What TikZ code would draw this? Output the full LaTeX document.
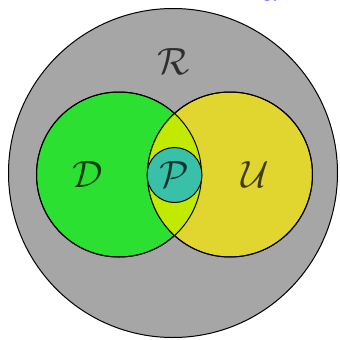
\documentclass[tikz,border=0pt]{standalone}
\usepackage{amsmath}
\definecolor{rgray}{HTML}{A6A6A6}
\definecolor{dgreen}{HTML}{2CE032}
\definecolor{uyellow}{HTML}{E0D62F}
\definecolor{lens}{HTML}{C2EA00}
\definecolor{pteal}{HTML}{38C0A8}
\begin{document}
\begin{tikzpicture}[x=1pt,y=-1pt,
  setc/.style={circle,inner sep=0pt,draw=black,line width=1pt},
  lbl/.style={text=black,text opacity=0.72,scale=3.8,inner sep=0pt}]
\useasboundingbox (0,0) rectangle (340,340);
\begin{scope}
\clip (0,0) rectangle (340,340);
\node[anchor=base,scale=2.2,inner sep=0pt] (frag) at (276,-4) {\textcolor{blue}{gy},};
\node[setc,fill=rgray,minimum size=329pt] (R) at (173,173) {};
\end{scope}
\node[setc,fill=dgreen,minimum size=165pt] (D) at (119,174.5) {};
\node[setc,fill=uyellow,minimum size=165pt] (U) at (230,174.5) {};
\begin{scope}
\clip (119,174.5) circle[radius=82.5pt];
\fill[lens] (230,174.5) circle[radius=82.5pt];
\end{scope}
\draw[line width=1pt] (119,174.5) circle[radius=82.5pt];
\draw[line width=1pt] (230,174.5) circle[radius=82.5pt];
\node[setc,fill=pteal,minimum size=55pt] (P) at (174.5,175) {};
\node[lbl] (Rl) at (174,62) {$\mathcal{R}$};
\node[lbl] (Dl) at (88,175) {$\mathcal{D}$};
\node[lbl] (Ul) at (255,175) {$\mathcal{U}$};
\node[lbl] (Pl) at (174.5,175) {$\mathcal{P}$};
\end{tikzpicture}
\end{document}
